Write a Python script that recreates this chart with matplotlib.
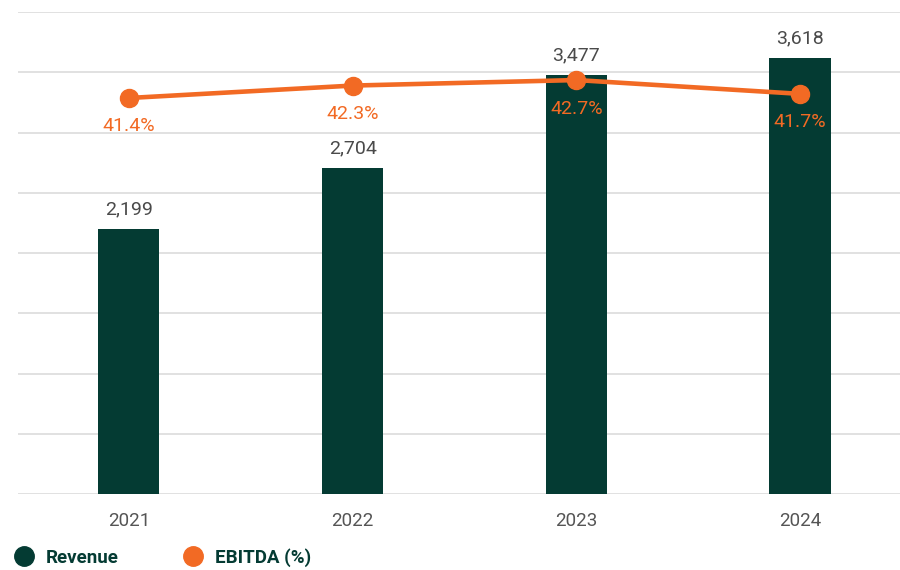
import matplotlib
matplotlib.use("Agg")
from matplotlib import pyplot as plt
from matplotlib.lines import Line2D

years = ["2021", "2022", "2023", "2024"]
revenue = [2199, 2704, 3477, 3618]
ebitda_pct = [41.4, 42.3, 42.7, 41.7]

green = "#043b33"
orange = "#f26a24"
plt.rcParams["font.family"] = ["Roboto", "DejaVu Sans"]

fig = plt.figure(figsize=(9, 5.7), dpi=100)
ax = fig.add_axes([0.02, 0.1333, 0.98, 0.8456])
x = list(range(len(years)))

ax.bar(x, revenue, width=0.273, color=green, zorder=2)
ax.set_ylim(0, 4000)
ax.set_yticks(range(0, 4001, 500))
ax.set_xlim(-0.496, 3.447)
ax.yaxis.grid(True, color="#dcdcdc", linewidth=1.2, zorder=0)
ax.set_axisbelow(True)
ax.set_yticklabels([])
ax.tick_params(axis="y", length=0)
ax.set_xticks(x)
ax.set_xticklabels(years, fontsize=13.5, color="#555555")
ax.tick_params(axis="x", length=0, pad=13)
for s in ax.spines.values():
    s.set_visible(False)

for i, v in enumerate(revenue):
    ax.annotate(f"{v:,}", (i, v), xytext=(0, 8), textcoords="offset points",
                ha="center", va="bottom", fontsize=14, color="#4a4a4a")

ax2 = ax.twinx()
ax2.set_ylim(12.7, 47.63)
ax2.plot(x, ebitda_pct, color=orange, linewidth=3.3, marker="o", markersize=13,
         solid_capstyle="round", zorder=3)
ax2.set_yticks([])
for s in ax2.spines.values():
    s.set_visible(False)
for i, p in enumerate(ebitda_pct):
    ax2.annotate(f"{p}%", (i, p), xytext=(0, -20.5), textcoords="offset points",
                 ha="center", va="center", fontsize=14, color=orange)

handles = [
    Line2D([], [], linestyle="none", marker="o", markersize=14, color=green),
    Line2D([], [], linestyle="none", marker="o", markersize=14, color=orange),
]
fig.legend(handles, ["Revenue", "EBITDA (%)"], loc="lower left",
           bbox_to_anchor=(-0.013, -0.024), ncol=2, frameon=False,
           handletextpad=0.15, columnspacing=3.0,
           prop={"weight": "bold", "size": 13.5}, labelcolor=green)

fig.savefig("out.png", dpi=100)
